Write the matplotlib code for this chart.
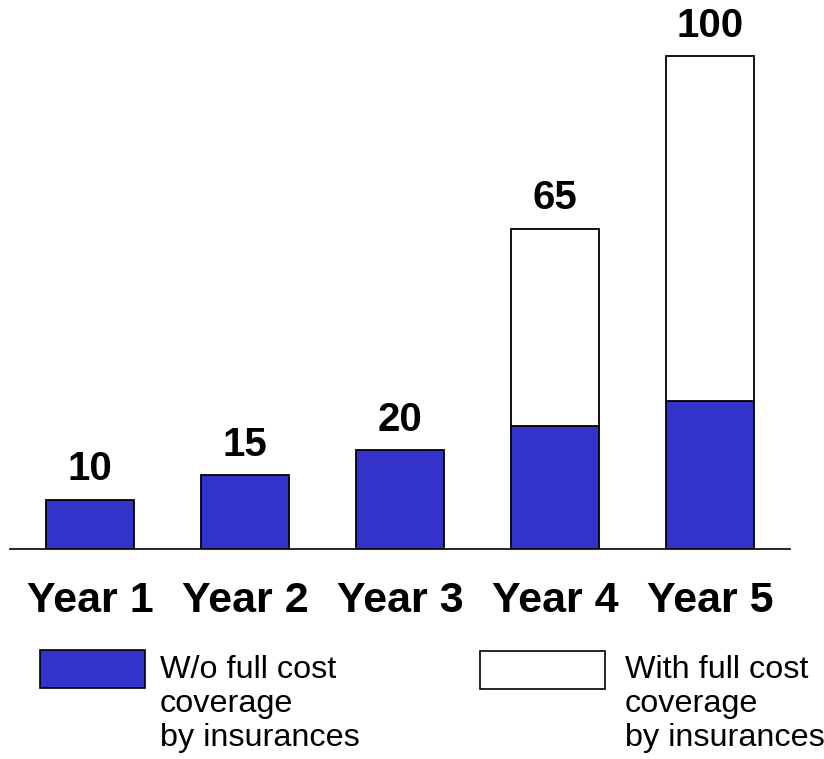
import matplotlib
matplotlib.use("Agg")
import matplotlib.pyplot as plt
from matplotlib.patches import Rectangle

plt.rcParams['font.family'] = ['Liberation Sans', 'DejaVu Sans']

# data
years = ['Year 1', 'Year 2', 'Year 3', 'Year 4', 'Year 5']
without_cov = [10, 15, 20, 25, 30]
with_cov = [0, 0, 0, 40, 70]
totals = [10, 15, 20, 65, 100]
legend_labels = ['W/o full cost\ncoverage\nby insurances',
                 'With full cost\ncoverage\nby insurances']

blue = '#3333CC'

W, H = 824, 759
fig = plt.figure(figsize=(W / 100, H / 100), dpi=100)
ax = fig.add_axes([10 / W, (H - 549) / H, 780 / W, 549 / H])

x = list(range(len(years)))
ax.bar(x, without_cov, width=0.568, color=blue, edgecolor='black', linewidth=1.3)
ax.bar(x, with_cov, width=0.568, bottom=without_cov, color='white',
       edgecolor='black', linewidth=1.3)
# hide zero-height white bars' edges
for p, v in zip(ax.patches[len(years):], with_cov):
    if v == 0:
        p.set_visible(False)

for xi, t in zip(x, totals):
    ax.text(xi, t + 2.3, str(t), ha='center', va='bottom',
            fontsize=29, fontweight='bold')

ax.set_xlim(-0.516, 4.516)
ax.set_ylim(0, 111.4)
ax.set_xticks(x)
ax.set_xticklabels(years, fontsize=31, fontweight='bold')
ax.tick_params(axis='x', length=0, pad=23)
ax.set_yticks([])
for s in ['top', 'left', 'right']:
    ax.spines[s].set_visible(False)
ax.spines['bottom'].set_linewidth(1.2)

# legend drawn manually
fig.patches.append(Rectangle((40 / W, (H - 688) / H), 105 / W, 38 / H,
                             transform=fig.transFigure, facecolor=blue,
                             edgecolor='black', linewidth=1.2))
fig.patches.append(Rectangle((480 / W, (H - 689) / H), 125 / W, 38 / H,
                             transform=fig.transFigure, facecolor='white',
                             edgecolor='black', linewidth=1.2))
fig.text(160 / W, (H - 655) / H, legend_labels[0], ha='left', va='top',
         fontsize=23.3, linespacing=1.18)
fig.text(625 / W, (H - 655) / H, legend_labels[1], ha='left', va='top',
         fontsize=23.3, linespacing=1.18)

plt.savefig('out.png', dpi=100)
